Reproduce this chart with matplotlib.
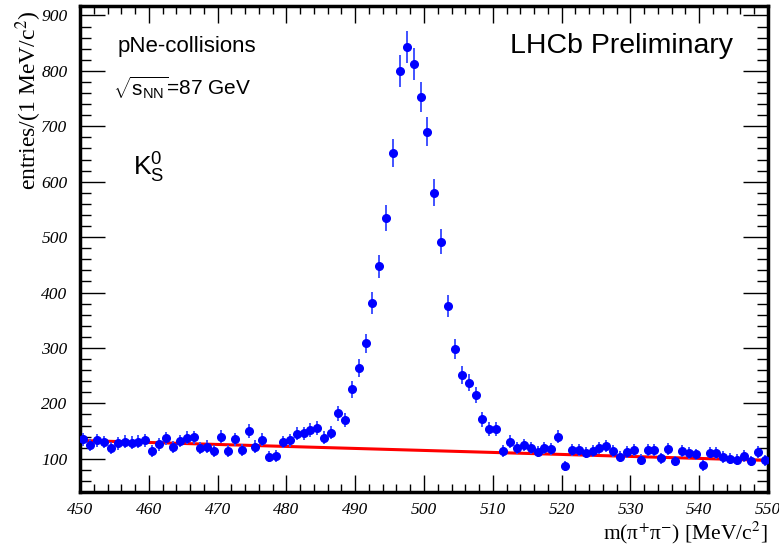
import numpy as np
import matplotlib
matplotlib.use('Agg')
import matplotlib.pyplot as plt
from matplotlib.ticker import MultipleLocator

# bin centres of the pi+pi- invariant mass histogram (1 MeV bins)
mass = np.arange(450.5, 550.0, 1.0)

entries = [
    135, 125, 133, 130, 120, 128, 131, 129, 131, 133,
    114, 126, 137, 121, 132, 138, 139, 119, 122, 114,
    140, 114, 135, 116, 150, 122, 134, 104, 105, 130,
    133, 145, 146, 152, 156, 138, 147, 182, 170, 225,
    263, 308, 381, 447, 534, 652, 800, 843, 812, 753,
    690, 580, 492, 376, 298, 251, 237, 215, 171, 154,
    154, 114, 131, 120, 125, 120, 113, 119, 118, 140,
    87, 116, 115, 111, 114, 120, 123, 114, 104, 112,
    115, 98, 116, 116, 101, 118, 96, 114, 110, 108,
    88, 111, 110, 103, 100, 98, 105, 96, 112, 97,
]
entries = np.array(entries, dtype=float)
errors = np.sqrt(entries)

# linear background fit
bkg_x = [450, 550]
bkg_y = [133, 97]

plt.rcParams['mathtext.fontset'] = 'custom'
plt.rcParams['mathtext.rm'] = 'Liberation Sans'
plt.rcParams['mathtext.it'] = 'Liberation Sans:italic'

fig = plt.figure(figsize=(7.79, 5.46), dpi=100)
ax = fig.add_axes([0.1027, 0.0989, 0.8832, 0.8901])

ax.plot(bkg_x, bkg_y, color='red', lw=2.2, zorder=2)
ax.errorbar(mass, entries, yerr=errors, fmt='o', color='blue', ms=5.5,
            ecolor='#3344ff', elinewidth=1.3, capsize=0, zorder=3)

ax.set_xlim(450, 550)
ax.set_ylim(40, 917)
ax.xaxis.set_major_locator(MultipleLocator(10))
ax.xaxis.set_minor_locator(MultipleLocator(2))
ax.yaxis.set_major_locator(MultipleLocator(100))
ax.yaxis.set_minor_locator(MultipleLocator(20))
ax.set_yticks([100, 200, 300, 400, 500, 600, 700, 800, 900])

ax.tick_params(which='both', direction='in', top=True, right=True,
               color='black', width=1.0)
ax.tick_params(axis='x', which='major', length=12, pad=7)
ax.tick_params(axis='x', which='minor', length=6)
ax.tick_params(axis='y', which='major', length=18, pad=9)
ax.tick_params(axis='y', which='minor', length=8)
for lab in ax.get_xticklabels() + ax.get_yticklabels():
    lab.set_fontfamily('Liberation Serif')
    lab.set_fontstyle('italic')
    lab.set_fontsize(12.5)
for sp in ax.spines.values():
    sp.set_linewidth(2.5)

ax.set_ylabel('entries/(1 MeV/c$^{2}$)', fontfamily='Liberation Serif',
              math_fontfamily='stix', fontsize=17)
ax.yaxis.set_label_coords(-0.053, 0.99)
ax.yaxis.label.set_horizontalalignment('right')
ax.set_xlabel('m(π$^{+}$π$^{-}$) [MeV/c$^{2}$]', fontfamily='Liberation Serif',
              math_fontfamily='stix', fontsize=15.5)
ax.xaxis.set_label_coords(1.0, -0.058)
ax.xaxis.label.set_horizontalalignment('right')

ax.text(0.055, 0.916, 'pNe-collisions', transform=ax.transAxes,
        fontfamily='Liberation Sans', fontsize=16, va='center')
ax.text(0.048, 0.833, r'$\sqrt{\mathrm{s}_{\mathrm{NN}}}$=87 GeV', transform=ax.transAxes,
        fontfamily='Liberation Sans', fontsize=15, va='center')
ax.text(0.077, 0.667, r'K$^{0}_{\mathrm{S}}$', transform=ax.transAxes,
        fontfamily='Liberation Sans', fontsize=19, va='center')
ax.text(0.949, 0.918, 'LHCb Preliminary', transform=ax.transAxes,
        fontfamily='Liberation Sans', fontsize=20.5, va='center', ha='right')

fig.savefig('out.png', dpi=100)
